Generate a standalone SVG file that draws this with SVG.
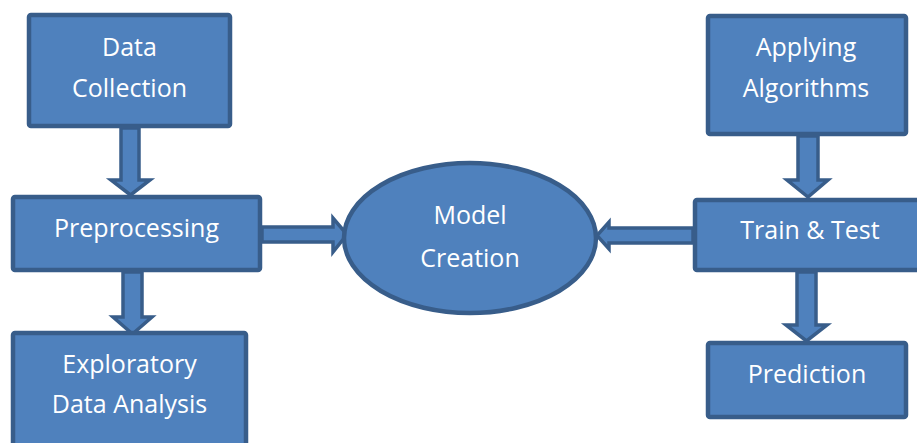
<svg xmlns="http://www.w3.org/2000/svg" width="917" height="443" viewBox="0 0 917 443">
<style>
.box{fill:#4F81BD;stroke:#385D8A;stroke-width:4.5}
.arr{fill:#4F81BD;stroke:#385D8A;stroke-width:3.5;stroke-linejoin:miter}
.t{font-family:"Open Sans","Liberation Sans",sans-serif;font-size:25px;fill:#FFFFFF;text-anchor:middle}
</style>
<rect width="917" height="443" fill="#FFFFFF"/>
<g id="connectors">
<path class="arr" d="M121,128 H139 V180 H150 L130.5,195 L111,180 H121 Z"/>
<path class="arr" d="M123,272 H142 V317 H152 L132.5,334 L113,317 H123 Z"/>
<path class="arr" d="M262,227 H333 V218 L347,234.5 L333,252 V242 H262 Z"/>
<path class="arr" d="M693,228 H609 V222 L597,235.5 L609,249 V243 H693 Z"/>
<path class="arr" d="M798,136 H818 V180 H828 L808,197 L787,180 H798 Z"/>
<path class="arr" d="M797,272 H816 V325 H827 L806.5,341 L786,325 H797 Z"/>
</g>
<g id="data-collection">
<rect class="box" x="29" y="15" width="201" height="111" rx="2"/>
<text class="t" x="129.5" y="56">Data</text>
<text class="t" x="129.5" y="97">Collection</text>
</g>
<g id="preprocessing">
<rect class="box" x="13" y="197" width="247" height="73" rx="2"/>
<text class="t" x="136.5" y="237">Preprocessing</text>
</g>
<g id="eda">
<rect class="box" x="13" y="333" width="233" height="116" rx="2"/>
<text class="t" x="129.5" y="373">Exploratory</text>
<text class="t" x="129.5" y="413">Data Analysis</text>
</g>
<g id="model-creation">
<ellipse class="box" cx="470" cy="238" rx="126" ry="75"/>
<text class="t" x="470" y="224">Model</text>
<text class="t" x="470" y="267">Creation</text>
</g>
<g id="applying-algorithms">
<rect class="box" x="708" y="16" width="198" height="118" rx="2"/>
<text class="t" x="806" y="56">Applying</text>
<text class="t" x="806" y="97">Algorithms</text>
</g>
<g id="train-test">
<rect class="box" x="695" y="200" width="232" height="70" rx="2"/>
<text class="t" x="810" y="239">Train &amp; Test</text>
</g>
<g id="prediction">
<rect class="box" x="708" y="343" width="198" height="74" rx="2"/>
<text class="t" x="807" y="383">Prediction</text>
</g>
</svg>
